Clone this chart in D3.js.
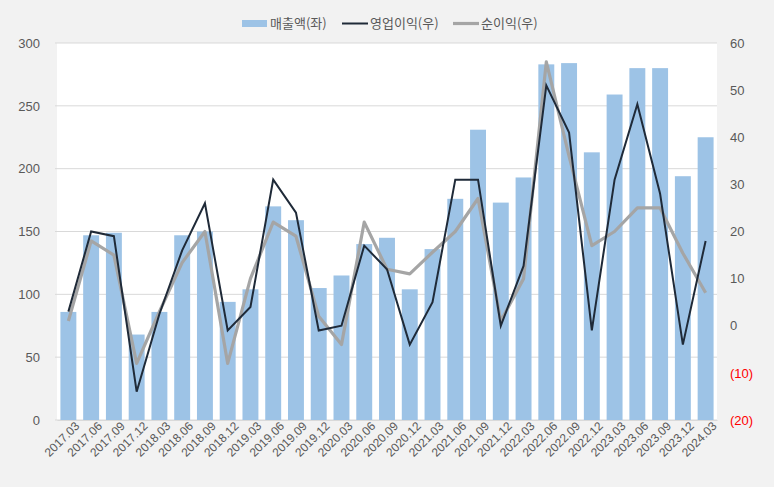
<!DOCTYPE html>
<html><head><meta charset="utf-8">
<script src="https://cdn.jsdelivr.net/npm/d3@7"></script>
<style>
body{margin:0;background:#f2f2f2;}
svg{display:block;font-family:"Noto Sans CJK KR","Liberation Sans",sans-serif;}
</style></head>
<body><svg id="c" width="774" height="487"></svg>
<script>
const categories = ["2017.03","2017.06","2017.09","2017.12","2018.03","2018.06","2018.09","2018.12","2019.03","2019.06","2019.09","2019.12","2020.03","2020.06","2020.09","2020.12","2021.03","2021.06","2021.09","2021.12","2022.03","2022.06","2022.09","2022.12","2023.03","2023.06","2023.09","2023.12","2024.03"];
const sales = [86,147,149,68,86,147,150,94,104,170,159,105,115,140,145,104,136,176,231,173,193,283,284,213,259,280,280,194,225];
const opProfit = [3,20,19,-14,2.5,16,26,-1,4,31,24,-1,0,17,12,-4,5,31,31,0,12.7,51,41,-1,31,47,28,-4,18];
const netProfit = [1,18,15,-8,3,13.4,20,-8,10,22,19,2,-4,22,12,11,15.6,20,27,1,10,56,36,17,20,25,25,15.4,7];
const leftTicks = [0,50,100,150,200,250,300];
const rightTicks = [-20,-10,0,10,20,30,40,50,60];
const legendLabels = ["매출액(좌)","영업이익(우)","순이익(우)"];

const svg = d3.select("#c");
const L=57,R=717,T=43,B=420;
svg.append("rect").attr("x",L).attr("y",T).attr("width",R-L).attr("height",B-T).attr("fill","#fff");

const x = d3.scaleBand().domain(categories).range([L,R]).paddingInner(0.3).paddingOuter(0.15);
const yL = d3.scaleLinear().domain([0,300]).range([B,T]);
const yR = d3.scaleLinear().domain([-20,60]).range([B,T]);

// gridlines
svg.append("g").selectAll("line").data(leftTicks).join("line")
  .attr("x1",L-2).attr("x2",R).attr("y1",d=>yL(d)).attr("y2",d=>yL(d))
  .attr("stroke","#d9d9d9").attr("stroke-width",1);

// bars
svg.append("g").selectAll("rect").data(sales).join("rect")
  .attr("x",(d,i)=>x(categories[i]))
  .attr("width",x.bandwidth())
  .attr("y",d=>yL(d)).attr("height",d=>yL(0)-yL(d))
  .attr("fill","#9dc3e6");

const cx = c => x(c)+x.bandwidth()/2;
const line = d3.line().x((d,i)=>cx(categories[i])).y(d=>yR(d));
svg.append("path").datum(netProfit).attr("d",line).attr("fill","none")
  .attr("stroke","#a5a5a5").attr("stroke-width",3.2).attr("stroke-linejoin","round");
svg.append("path").datum(opProfit).attr("d",line).attr("fill","none")
  .attr("stroke","#1f2a38").attr("stroke-width",2).attr("stroke-linejoin","miter");

// left axis
const gl = svg.append("g").attr("transform",`translate(${L},0)`)
  .call(d3.axisLeft(yL).tickValues(leftTicks).tickSize(0).tickPadding(17));
gl.select(".domain").remove();
gl.selectAll("text").attr("fill","#595959").style("font-size","13px").style("font-family","'Liberation Sans',Arial,sans-serif");

// right axis
const gr = svg.append("g").attr("transform",`translate(${R},0)`)
  .call(d3.axisRight(yR).tickValues(rightTicks).tickSize(0).tickPadding(13)
    .tickFormat(d=>d<0?`(${-d})`:d));
gr.select(".domain").remove();
gr.selectAll("text").attr("fill",d=>d<0?"#ff0000":"#595959").style("font-size","13px").style("font-family","'Liberation Sans',Arial,sans-serif");

// bottom axis
const gb = svg.append("g").attr("transform",`translate(0,${B})`)
  .call(d3.axisBottom(x).tickSize(0).tickPadding(6));
gb.select(".domain").attr("stroke","#d9d9d9");
gb.selectAll("text").attr("fill","#595959").style("font-size","12px").style("font-family","'Liberation Sans',Arial,sans-serif")
  .attr("text-anchor","end").attr("dx","0.3em").attr("dy","0.6em")
  .attr("transform","rotate(-45)");

// legend
const lg = svg.append("g").style("font-size","13px");
const items = [{x:242,type:"rect",color:"#9dc3e6"},{x:342,type:"line",color:"#1f2a38",w:2},{x:453,type:"line",color:"#a5a5a5",w:3.2}];
items.forEach((it,i)=>{
  if(it.type==="rect") lg.append("rect").attr("x",it.x).attr("y",20).attr("width",25).attr("height",7).attr("fill",it.color);
  else lg.append("line").attr("x1",it.x).attr("x2",it.x+26).attr("y1",23.5).attr("y2",23.5).attr("stroke",it.color).attr("stroke-width",it.w);
  lg.append("text").attr("x",it.x+28).attr("y",28).attr("fill","#595959").text(legendLabels[i]);
});
</script></body></html>
